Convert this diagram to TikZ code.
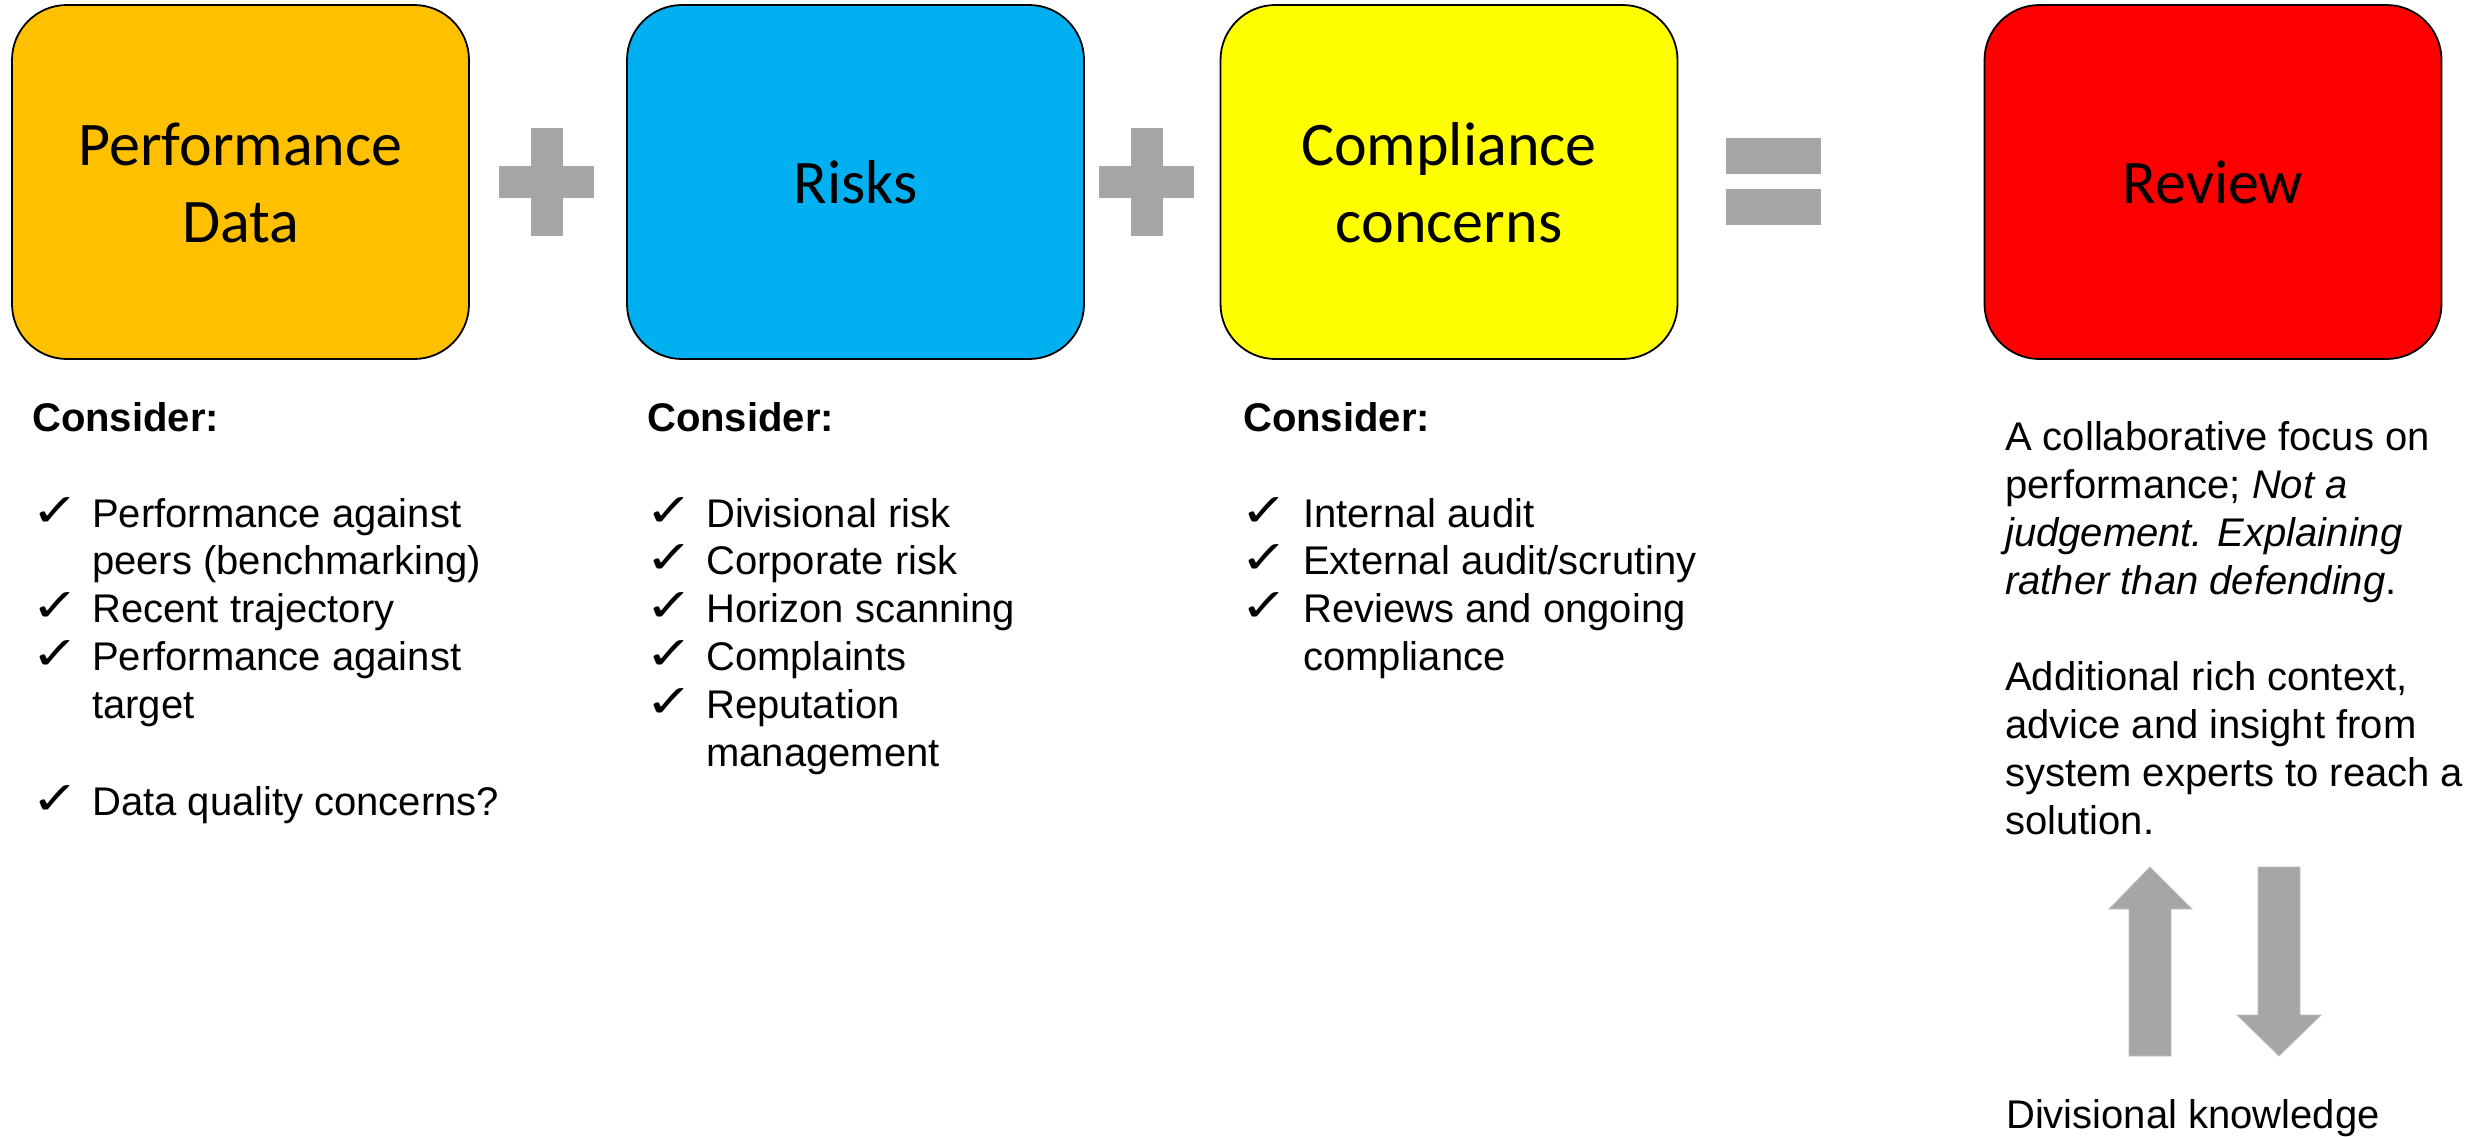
\documentclass[tikz,border=0pt]{standalone}
\usepackage{fontspec}
\setmainfont{Liberation Sans}
\newfontfamily\cardfont{Carlito}
\newfontfamily\symfont{DejaVu Sans}

\definecolor{perfC}{HTML}{FFC000}
\definecolor{riskC}{HTML}{00B0F0}
\definecolor{compC}{HTML}{FFFF00}
\definecolor{revC}{HTML}{FF0000}
\definecolor{opC}{HTML}{A6A6A6}
\definecolor{opEdge}{HTML}{BFBFBF}

\begin{document}
\begin{tikzpicture}[x=1pt, y=-1pt,
  card/.style={draw=black, line width=1.8pt, rounded corners=55pt,
    minimum width=457pt, minimum height=354pt, inner sep=0pt},
  cardtitle/.style={anchor=base, inner sep=0pt,
    font=\cardfont\fontsize{62}{77}\selectfont},
  headtext/.style={anchor=base west, inner sep=0pt,
    font=\bfseries\fontsize{40}{48}\selectfont},
  listtext/.style={anchor=base west, inner sep=0pt,
    font=\fontsize{40}{48}\selectfont},
  chk/.style={anchor=base west, inner sep=0pt, xscale=1.25, transform shape,
    font=\symfont\fontsize{46}{54}\selectfont},
  chkbold/.style={chk, font=\symfont\bfseries\fontsize{46}{54}\selectfont},
  opshape/.style={fill=opC, draw=none},
  bigarrow/.style={fill=opC, draw=opEdge, line width=0.8pt}
]
\useasboundingbox (0,0) rectangle (2468,1136);

% ---- the four cards ----
\node[card, fill=perfC] (perf) at (240.5,182) {};
\node[card, fill=riskC] (risk) at (855.5,182) {};
\node[card, fill=compC] (comp) at (1449,182) {};
\node[card, fill=revC]  (rev)  at (2213,182) {};

\node[cardtitle] (perfT1) at (240.5,165) {Performance};
\node[cardtitle] (perfT2) at (240.5,242) {Data};
\node[cardtitle] (riskT)  at (855.5,203) {Risks};
\node[cardtitle] (compT1) at (1449,165) {Compliance};
\node[cardtitle] (compT2) at (1449,242) {concerns};
\node[cardtitle] (revT)   at (2213,203) {Review};

% ---- plus and equals signs ----
\fill[opshape] (531,128) rectangle (563,236);
\fill[opshape] (499,166) rectangle (594,198);
\fill[opshape] (1131,128) rectangle (1163,236);
\fill[opshape] (1099,166) rectangle (1194,198);
\fill[opshape] (1726,138) rectangle (1821,174);
\fill[opshape] (1726,189) rectangle (1821,225);

% ---- first column: performance data ----
\node[headtext] (h1) at (32,431) {Consider:};
\node[chk] (c1a) at (31,526) {✓};
\node[listtext] (l1a) at (92,527) {Performance against};
\node[listtext] (l1b) at (92,574) {peers (benchmarking)};
\node[chk] (c1c) at (31,621) {✓};
\node[listtext] (l1c) at (92,622) {Recent trajectory};
\node[chk] (c1d) at (31,669) {✓};
\node[listtext] (l1d) at (92,670) {Performance against};
\node[listtext] (l1e) at (92,718) {target};
\node[chk] (c1f) at (31,814) {✓};
\node[listtext] (l1f) at (92,815) {Data quality concerns?};

% ---- second column: risks ----
\node[headtext] (h2) at (647,431) {Consider:};
\node[chk] (c2a) at (645,526) {✓};
\node[listtext] (l2a) at (706,527) {Divisional risk};
\node[chk] (c2b) at (645,573) {✓};
\node[listtext] (l2b) at (706,574) {Corporate risk};
\node[chk] (c2c) at (645,621) {✓};
\node[listtext] (l2c) at (706,622) {Horizon scanning};
\node[chk] (c2d) at (645,669) {✓};
\node[listtext] (l2d) at (706,670) {Complaints};
\node[chk] (c2e) at (645,717) {✓};
\node[listtext] (l2e) at (706,718) {Reputation};
\node[listtext] (l2f) at (706,766) {management};

% ---- third column: compliance ----
\node[headtext] (h3) at (1243,431) {Consider:};
\node[chkbold] (c3a) at (1240,526) {✓};
\node[listtext] (l3a) at (1303,527) {Internal audit};
\node[chkbold] (c3b) at (1240,573) {✓};
\node[listtext] (l3b) at (1303,574) {External audit/scrutiny};
\node[chkbold] (c3c) at (1240,621) {✓};
\node[listtext] (l3c) at (1303,622) {Reviews and ongoing};
\node[listtext] (l3d) at (1303,670) {compliance};

% ---- review column ----
\node[listtext] (r1) at (2005,450) {A collaborative focus on};
\node[listtext] (r2) at (2005,498) {performance; \textit{Not a}};
\node[listtext] (r3) at (2005,546) {\textit{judgement. Explaining}};
\node[listtext] (r4) at (2005,594) {\textit{rather than defending}.};
\node[listtext] (r5) at (2005,690) {Additional rich context,};
\node[listtext] (r6) at (2005,738) {advice and insight from};
\node[listtext] (r7) at (2005,786) {system experts to reach a};
\node[listtext] (r8) at (2005,834) {solution.};
\node[listtext] (r9) at (2006,1128) {Divisional knowledge};

% ---- two-way exchange arrows ----
\filldraw[bigarrow] (2150,867) -- (2192,909) -- (2171,909) -- (2171,1056)
  -- (2129,1056) -- (2129,909) -- (2109,909) -- cycle;
\filldraw[bigarrow] (2258,867) -- (2300,867) -- (2300,1015) -- (2321,1015)
  -- (2279,1056) -- (2237,1015) -- (2258,1015) -- cycle;
\end{tikzpicture}
\end{document}
